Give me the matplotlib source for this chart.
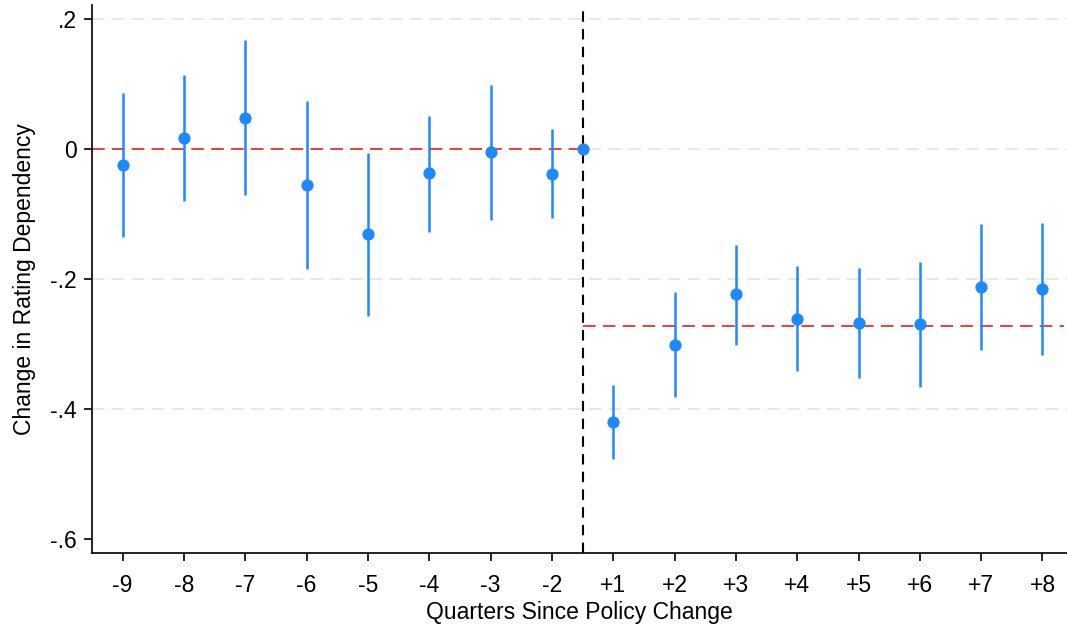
import matplotlib
matplotlib.use("Agg")
import matplotlib.pyplot as plt
import numpy as np

plt.rcParams['font.family'] = ['Liberation Sans', 'DejaVu Sans']

# quarters relative to the policy change (-1 is the omitted reference quarter)
tick_labels = ["-9", "-8", "-7", "-6", "-5", "-4", "-3", "-2",
               "+1", "+2", "+3", "+4", "+5", "+6", "+7", "+8"]
coef = [-0.025, 0.017, 0.048, -0.055, -0.131, -0.037, -0.005, -0.038,
        -0.420, -0.302, -0.223, -0.262, -0.268, -0.269, -0.212, -0.215]
ci_low = [-0.135, -0.080, -0.071, -0.185, -0.257, -0.128, -0.109, -0.106,
          -0.477, -0.382, -0.302, -0.342, -0.352, -0.366, -0.309, -0.317]
ci_high = [0.086, 0.114, 0.168, 0.074, -0.006, 0.051, 0.098, 0.031,
           -0.363, -0.220, -0.148, -0.180, -0.183, -0.174, -0.115, -0.114]
ref_value = 0.0
pre_mean = 0.0
post_mean = -0.272

blue = "#1e88ff"
red = "#e8312f"

x = np.arange(len(tick_labels))
ref_x = 7.5  # the omitted quarter sits on the policy-change line

fig = plt.figure(figsize=(10.67, 6.28), dpi=100)
ax = fig.add_axes([0.0862, 0.1194, 0.9138, 0.8726])

# light dashed grid
for gy in [0.2, 0.0, -0.2, -0.4]:
    ax.axhline(gy, color="#e6e6e6", lw=1.3, ls=(0, (7, 4)), zorder=0)

# pre / post averages
ax.plot([-0.5, ref_x], [pre_mean, pre_mean], color=red, lw=1.3, ls=(0, (7, 4)), zorder=2)
ax.plot([ref_x, 15.35], [post_mean, post_mean], color=red, lw=1.3, ls=(0, (7, 4)), zorder=2)

ax.axvline(ref_x, color="black", lw=1.5, ls=(0, (5, 3.5)), zorder=1)

# confidence intervals and point estimates
ax.vlines(x, ci_low, ci_high, color=blue, lw=1.8, zorder=3)
ax.plot(x, coef, "o", color=blue, ms=7.8, zorder=4)
ax.plot([ref_x], [ref_value], "o", color=blue, ms=7.8, zorder=4)

ax.set_xlim(-0.5, 15.4)
ax.set_ylim(-0.6215, 0.2215)
ax.set_xticks(x)
ax.set_xticklabels(tick_labels)
ax.set_yticks([0.2, 0.0, -0.2, -0.4, -0.6])
ax.set_yticklabels([".2", "0", "-.2", "-.4", "-.6"])
ax.tick_params(axis="both", labelsize=16.5, length=6, width=1.2, direction="out")
ax.tick_params(axis="x", pad=9)
ax.tick_params(axis="y", pad=5)

for side in ["top", "right"]:
    ax.spines[side].set_visible(False)
for side in ["left", "bottom"]:
    ax.spines[side].set_linewidth(1.2)

ax.set_xlabel("Quarters Since Policy Change", fontsize=16.5, labelpad=3)
ax.set_ylabel("Change in Rating Dependency", fontsize=16.5, labelpad=10)

fig.savefig("out.png", dpi=100)
